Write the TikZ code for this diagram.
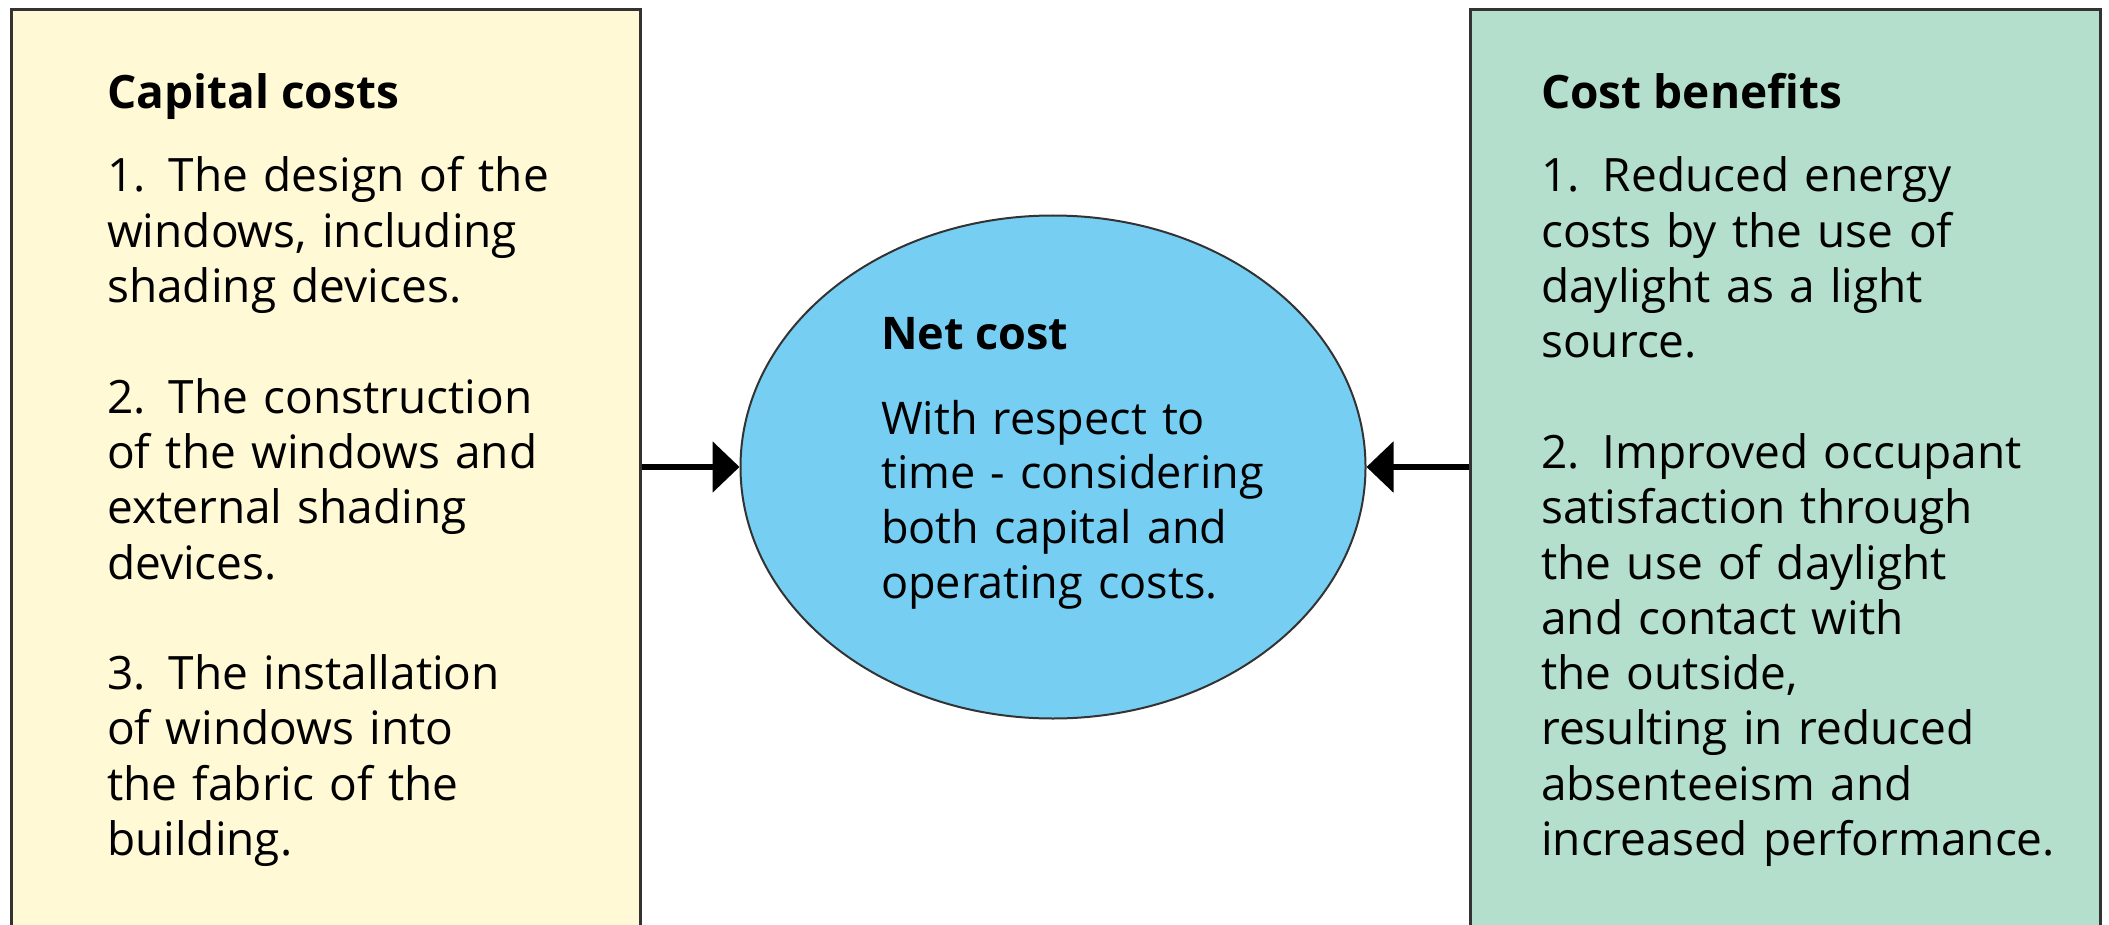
\documentclass[tikz,border=0pt]{standalone}
\usepackage{fontspec}
\setmainfont{Open Sans}
\usetikzlibrary{shapes.geometric,arrows.meta}
\definecolor{capfill}{HTML}{FFF9D5}
\definecolor{benfill}{HTML}{B3DFCC}
\definecolor{netfill}{HTML}{76CFF3}
\definecolor{edge}{HTML}{333333}
\begin{document}
\begin{tikzpicture}[x=1pt,y=-1pt,
  panel/.style={draw=edge,line width=3pt,rectangle,anchor=north west,inner sep=0pt,
    minimum width=629pt,minimum height=950pt},
  head/.style={anchor=base west,inner sep=0pt,font=\fontsize{46}{55.5}\selectfont\bfseries},
  body/.style={anchor=base west,inner sep=0pt,align=left,text width=560pt,
    font=\fontsize{46}{55.3}\selectfont},
  ehead/.style={anchor=base west,inner sep=0pt,font=\fontsize{45}{55}\selectfont\bfseries},
  ebody/.style={anchor=base west,inner sep=0pt,align=left,text width=420pt,
    font=\fontsize{45}{54.8}\selectfont},
  link/.style={line width=6pt,-{Triangle[length=27pt,width=50pt]}}]
\useasboundingbox (0,0) rectangle (2109,925);
\node[panel,fill=capfill] (cap) at (10,8) {};
\node[panel,fill=benfill,minimum width=630pt] (ben) at (1469,8) {};
\node[draw=edge,line width=2pt,ellipse,fill=netfill,minimum width=625pt,minimum height=503pt,inner sep=0pt] (net) at (1053,467) {};
\draw[link] (cap.east |- net.west) -- (net.west);
\draw[link] (ben.west |- net.east) -- (net.east);
\node[head] (caph) at (107,109) {Capital costs};
\node[body] (capb) at (107,192) {1.\enspace The design of the\\ windows, including\\ shading devices.\\[55.3pt]
2.\enspace The construction\\ of the windows and\\ external shading\\ devices.\\[55.3pt]
3.\enspace The installation\\ of windows into\\ the fabric of the\\ building.};
\node[head] (benh) at (1541,109) {Cost benefits};
\node[body] (benb) at (1541,192) {1.\enspace Reduced energy\\ costs by the use of\\ daylight as a light\\ source.\\[55.3pt]
2.\enspace Improved occupant\\ satisfaction through\\ the use of daylight\\ and contact with\\ the outside,\\ resulting in reduced\\ absenteeism and\\ increased performance.};
\node[ehead] (neth) at (881,349) {Net cost};
\node[ebody] (netb) at (881,434) {With respect to\\ time - considering\\ both capital and\\ operating costs.};
\end{tikzpicture}
\end{document}
